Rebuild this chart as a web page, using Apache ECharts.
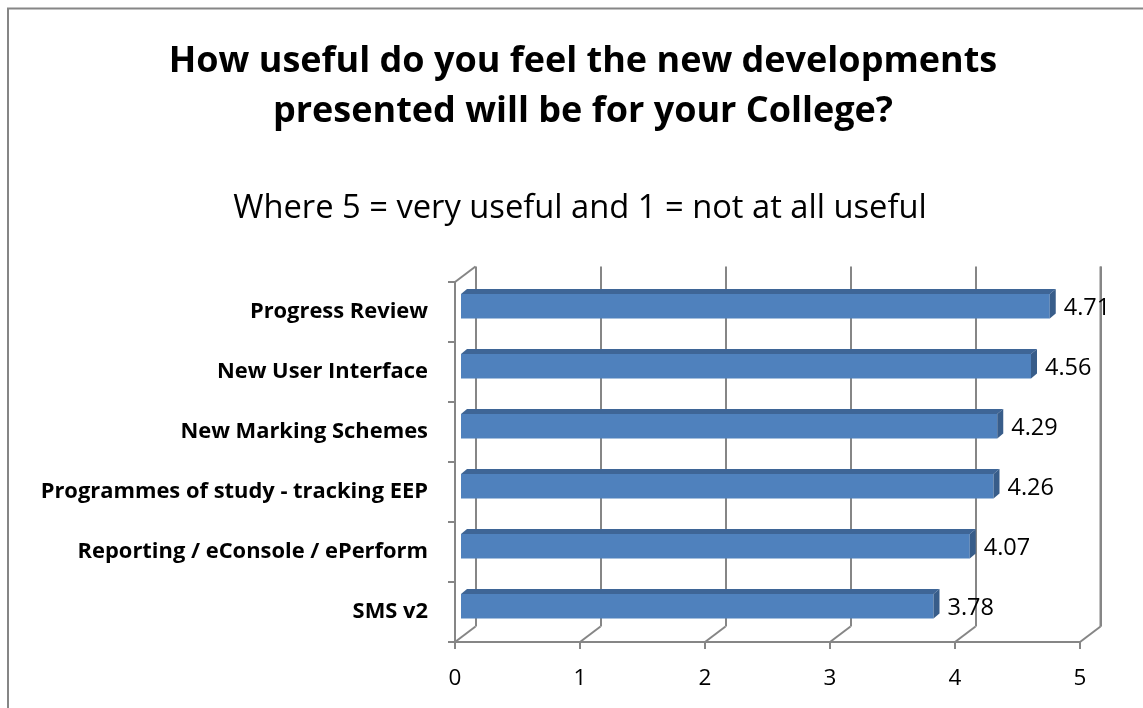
<!DOCTYPE html>
<html><head><meta charset="utf-8">
<script src="https://cdn.jsdelivr.net/npm/echarts@6/dist/echarts.min.js"></script>
<style>html,body{margin:0;padding:0;background:#fff}#c{width:1143px;height:708px}</style>
</head><body><div id="c"></div>
<script>
const categories = ['Progress Review','New User Interface','New Marking Schemes','Programmes of study - tracking EEP','Reporting / eConsole / ePerform','SMS v2'];
const values = [4.71, 4.56, 4.29, 4.26, 4.07, 3.78];
const xTicks = [0, 1, 2, 3, 4, 5];
const titleText = 'How useful do you feel the new developments\npresented will be for your College?';
const subtitleText = 'Where 5 = very useful and 1 = not at all useful';

const FONT = "'Open Sans', Lato, 'Liberation Sans', Arial, sans-serif";
const GRAY = '#868686';
const DEPTH_X = 20.5, DEPTH_Y = -15.5;

const chart = echarts.init(document.getElementById('c'), null, {renderer: 'canvas'});
chart.setOption({
  backgroundColor: '#fff',
  animation: false,
  graphic: [{type: 'rect', shape: {x: 8, y: 8.5, width: 1300, height: 900}, style: {fill: 'none', stroke: GRAY, lineWidth: 2}, silent: true}],
  title: [
    {text: titleText, left: 578, top: 32, textAlign: 'center',
     textStyle: {fontFamily: FONT, fontWeight: 'bold', fontSize: 36, lineHeight: 50, color: '#000'}},
    {text: subtitleText, left: 575, top: 187, textAlign: 'center',
     textStyle: {fontFamily: FONT, fontWeight: 'normal', fontSize: 32.7, lineHeight: 33, color: '#000'}}
  ],
  grid: [
    {left: 455, right: 63, top: 282, bottom: 66},
    {left: 475.5, right: 42, top: 266.5, bottom: 81.5}
  ],
  xAxis: [
    {type: 'value', gridIndex: 0, min: 0, max: 5, interval: 1,
     axisLine: {show: true, lineStyle: {color: GRAY, width: 2}},
     axisTick: {show: true, length: 7, lineStyle: {color: GRAY, width: 2}},
     splitLine: {show: false},
     axisLabel: {margin: 25, fontFamily: FONT, fontSize: 22.5, color: '#000'}},
    {type: 'value', gridIndex: 1, min: 0, max: 5, interval: 1,
     axisLine: {show: false}, axisTick: {show: false}, axisLabel: {show: false},
     splitLine: {show: true, lineStyle: {color: GRAY, width: 2}}}
  ],
  yAxis: [
    {type: 'category', gridIndex: 0, data: categories, inverse: true,
     axisLine: {show: true, lineStyle: {color: GRAY, width: 2}},
     axisTick: {show: true, length: 7, lineStyle: {color: GRAY, width: 2}},
     axisLabel: {margin: 27, fontFamily: FONT, fontWeight: 'bold', fontSize: 21.9, color: '#000'}},
    {type: 'category', gridIndex: 1, data: categories, inverse: true, show: false}
  ],
  series: [
    {
      type: 'custom', xAxisIndex: 0, yAxisIndex: 0, z: 1, silent: true,
      data: xTicks.map(v => [v, 0]),
      renderItem: function (params, api) {
        const v = api.value(0);
        const cs = params.coordSys;
        const x = api.coord([v, 0])[0];
        const bottom = cs.y + cs.height;
        const children = [{type: 'line', shape: {x1: x, y1: bottom, x2: x + DEPTH_X, y2: bottom + DEPTH_Y},
          style: {stroke: GRAY, lineWidth: 2}}];
        if (v === 0) {
          children.push({type: 'line', shape: {x1: x, y1: cs.y, x2: x + DEPTH_X, y2: cs.y + DEPTH_Y},
            style: {stroke: GRAY, lineWidth: 2}});
        }
        if (v === 5) {
          children.push({type: 'line', shape: {x1: x + DEPTH_X, y1: bottom + DEPTH_Y, x2: x + DEPTH_X, y2: cs.y + DEPTH_Y},
            style: {stroke: GRAY, lineWidth: 2}});
        }
        return {type: 'group', children: children};
      }
    },
    {
      type: 'custom', xAxisIndex: 0, yAxisIndex: 0, z: 5, silent: true,
      data: values.map((v, i) => [v, i]),
      renderItem: function (params, api) {
        const v = api.value(0), i = api.value(1);
        const p0 = api.coord([0, i]), p1 = api.coord([v, i]);
        const cy = p0[1];
        const ox = 6, dx = 6, dy = -5;
        const x0 = p0[0] + ox, x1 = p1[0] + ox;
        const top = cy - 18, bottom = cy + 6.5;
        return {type: 'group', children: [
          {type: 'rect', shape: {x: x0, y: top, width: x1 - x0, height: bottom - top},
           style: {fill: '#4F81BD'}},
          {type: 'polygon', shape: {points: [[x0, top], [x1, top], [x1 + dx, top + dy], [x0 + dx, top + dy]]},
           style: {fill: '#3E6596'}},
          {type: 'polygon', shape: {points: [[x1, top], [x1 + dx, top + dy], [x1 + dx, bottom + dy], [x1, bottom]]},
           style: {fill: '#385D8A'}},
          {type: 'text', style: {text: v.toFixed(2), x: x1 + dx + 8, y: cy - 4, verticalAlign: 'middle', align: 'left',
            fontFamily: FONT, fontSize: 23.5, fill: '#000'}}
        ]};
      }
    }
  ]
});
</script></body></html>
